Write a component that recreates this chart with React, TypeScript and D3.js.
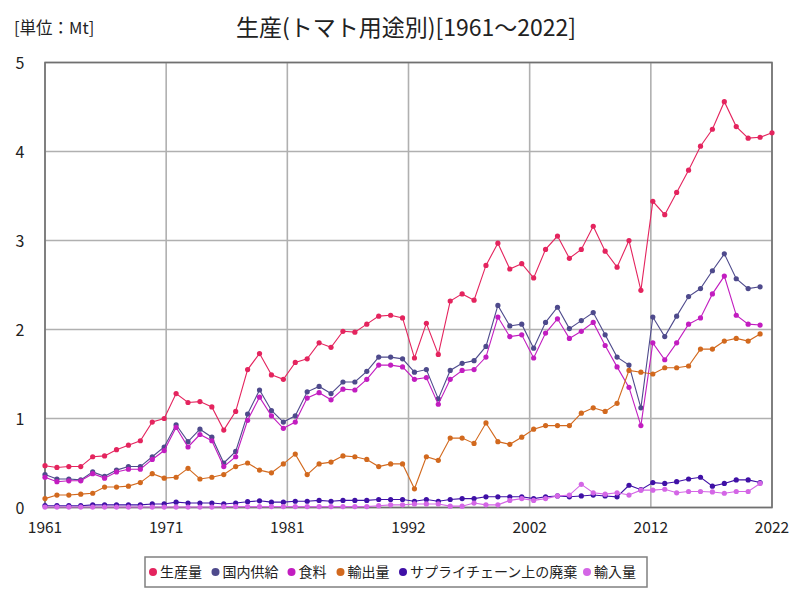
import React from 'react';
import * as d3 from 'd3';

const years: number[] = [
  1961, 1962, 1963, 1964, 1965, 1966, 1967, 1968, 1969, 1970,
  1971, 1972, 1973, 1974, 1975, 1976, 1977, 1978, 1979, 1980,
  1981, 1982, 1983, 1984, 1985, 1986, 1987, 1988, 1989, 1990,
  1991, 1992, 1993, 1994, 1995, 1996, 1997, 1998, 1999, 2000,
  2001, 2002, 2003, 2004, 2005, 2006, 2007, 2008, 2009, 2010,
  2011, 2012, 2013, 2014, 2015, 2016, 2017, 2018, 2019, 2020,
  2021, 2022,
];

const production: number[] = [
  0.47, 0.45, 0.46, 0.46, 0.57, 0.58, 0.65, 0.70, 0.75, 0.96,
  1.00, 1.28, 1.18, 1.19, 1.13, 0.87, 1.08, 1.55, 1.73, 1.49,
  1.44, 1.63, 1.67, 1.85, 1.80, 1.98, 1.97, 2.06, 2.15, 2.16,
  2.13, 1.68, 2.07, 1.72, 2.32, 2.40, 2.33, 2.72, 2.97, 2.68,
  2.74, 2.58, 2.90, 3.05, 2.80, 2.90, 3.16, 2.88, 2.70, 3.00,
  2.44, 3.44, 3.29, 3.54, 3.79, 4.06, 4.25, 4.56, 4.28, 4.15,
  4.16, 4.21,
];

const domesticSupply: number[] = [
  0.37, 0.32, 0.32, 0.31, 0.40, 0.35, 0.42, 0.46, 0.46, 0.57,
  0.68, 0.93, 0.74, 0.88, 0.79, 0.50, 0.63, 1.05, 1.32, 1.09,
  0.96, 1.03, 1.30, 1.36, 1.28, 1.41, 1.41, 1.53, 1.69, 1.69,
  1.67, 1.52, 1.55, 1.22, 1.54, 1.62, 1.65, 1.81, 2.27, 2.04,
  2.06, 1.79, 2.08, 2.25, 2.01, 2.10, 2.19, 1.94, 1.69, 1.60,
  1.12, 2.14, 1.92, 2.15, 2.37, 2.46, 2.66, 2.85, 2.57, 2.46,
  2.48,
];

const food: number[] = [
  0.34, 0.29, 0.30, 0.30, 0.38, 0.33, 0.40, 0.43, 0.43, 0.54,
  0.64, 0.90, 0.68, 0.82, 0.75, 0.46, 0.57, 0.98, 1.24, 1.03,
  0.89, 0.96, 1.23, 1.29, 1.21, 1.33, 1.32, 1.44, 1.60, 1.60,
  1.58, 1.44, 1.46, 1.16, 1.44, 1.54, 1.55, 1.69, 2.14, 1.92,
  1.94, 1.68, 1.96, 2.12, 1.90, 1.98, 2.08, 1.82, 1.58, 1.35,
  0.92, 1.85, 1.66, 1.85, 2.06, 2.13, 2.40, 2.60, 2.16, 2.06,
  2.05,
];

const exportsQty: number[] = [
  0.10, 0.14, 0.14, 0.15, 0.16, 0.23, 0.23, 0.24, 0.28, 0.38,
  0.33, 0.34, 0.44, 0.32, 0.34, 0.37, 0.46, 0.50, 0.42, 0.39,
  0.49, 0.60, 0.37, 0.49, 0.51, 0.58, 0.57, 0.54, 0.46, 0.49,
  0.49, 0.21, 0.57, 0.53, 0.78, 0.78, 0.72, 0.95, 0.74, 0.71,
  0.79, 0.88, 0.92, 0.92, 0.92, 1.06, 1.12, 1.08, 1.17, 1.54,
  1.52, 1.50, 1.57, 1.57, 1.59, 1.78, 1.78, 1.87, 1.90, 1.87,
  1.95,
];

const supplyChainWaste: number[] = [
  0.02, 0.02, 0.02, 0.02, 0.03, 0.03, 0.03, 0.03, 0.03, 0.04,
  0.04, 0.06, 0.05, 0.05, 0.05, 0.04, 0.05, 0.065, 0.075, 0.06,
  0.06, 0.07, 0.07, 0.08, 0.07, 0.08, 0.08, 0.08, 0.09, 0.09,
  0.09, 0.07, 0.09, 0.07, 0.09, 0.10, 0.10, 0.12, 0.12, 0.12,
  0.12, 0.10, 0.12, 0.13, 0.12, 0.13, 0.14, 0.13, 0.12, 0.25,
  0.20, 0.28, 0.27, 0.29, 0.32, 0.34, 0.24, 0.27, 0.31, 0.31,
  0.28,
];

const importsQty: number[] = [
  0.005, 0.005, 0.005, 0.005, 0.005, 0.005, 0.005, 0.005, 0.005, 0.005,
  0.005, 0.005, 0.005, 0.005, 0.005, 0.01, 0.01, 0.01, 0.01, 0.01,
  0.01, 0.01, 0.01, 0.01, 0.01, 0.01, 0.01, 0.01, 0.02, 0.03,
  0.03, 0.04, 0.04, 0.04, 0.015, 0.015, 0.05, 0.03, 0.03, 0.08,
  0.10, 0.08, 0.10, 0.13, 0.14, 0.26, 0.165, 0.15, 0.165, 0.14,
  0.195, 0.195, 0.205, 0.165, 0.18, 0.18, 0.175, 0.16, 0.18, 0.18,
  0.27,
];

const seriesNames: string[] = ['生産量', '国内供給', '食料', '輸出量', 'サプライチェーン上の廃棄', '輸入量'];
const seriesColors: string[] = ['#E4245E', '#4E4A8C', '#C21DC0', '#D2691E', '#3F10A6', '#D466E6'];
const seriesValues: number[][] = [production, domesticSupply, food, exportsQty, supplyChainWaste, importsQty];

const yTicks: number[] = [0, 1, 2, 3, 4, 5];
const titleText = '生産(トマト用途別)[1961～2022]';
const unitText = '[単位：Mt]';

const FONT = '"Noto Sans CJK JP", "Noto Sans", sans-serif';

export default function App() {
  const left = 45, right = 772, top = 62.5, bottom = 507.5;
  const x = d3.scaleLinear().domain([1961, 2022]).range([left, right]);
  const y = d3.scaleLinear().domain([0, 5]).range([bottom, top]);
  const xTicks = d3.range(7).map((k) => 1961 + (61 * k) / 6);

  const line = d3
    .line<number>()
    .x((_, i) => x(years[i]))
    .y((d) => y(d));

  // legend layout
  const legendItems: { name: string; color: string; cx: number }[] = [];
  let cx = 153;
  seriesNames.forEach((name, i) => {
    legendItems.push({ name, color: seriesColors[i], cx });
    cx += 22 + name.length * 13.5;
  });

  return (
    <svg
      width={800}
      height={600}
      style={{ position: 'absolute', left: 0, top: 0, background: '#fff' }}
      fontFamily={FONT}
    >
      <rect x={0} y={0} width={800} height={600} fill="#fff" />
      <text x={14} y={34} fontSize={16.5} fill="#222">{unitText}</text>
      <text x={406} y={36} fontSize={23} fill="#222" textAnchor="middle">{titleText}</text>

      {/* grid */}
      {yTicks.map((t) => (
        <line key={'gy' + t} x1={left} x2={right} y1={y(t)} y2={y(t)} stroke="#b0b0b0" strokeWidth={1.6} />
      ))}
      {xTicks.map((t, i) => (
        <line key={'gx' + i} x1={x(t)} x2={x(t)} y1={top} y2={bottom} stroke="#b0b0b0" strokeWidth={1.6} />
      ))}
      <rect x={left} y={top} width={right - left} height={bottom - top} fill="none" stroke="#707070" strokeWidth={1.6} />

      {/* axis labels */}
      {yTicks.map((t) => (
        <text key={'ly' + t} x={20} y={y(t) + 6} fontSize={16} fill="#222" textAnchor="middle">{t}</text>
      ))}
      {xTicks.map((t, i) => (
        <text key={'lx' + i} x={x(t)} y={533} fontSize={15.5} fill="#222" textAnchor="middle">{Math.round(t)}</text>
      ))}

      {/* series */}
      {seriesValues.map((vals, si) => (
        <g key={'s' + si}>
          <path d={line(vals) || ''} fill="none" stroke={seriesColors[si]} strokeWidth={1.1} />
          {vals.map((v, i) => (
            <circle key={i} cx={x(years[i])} cy={y(v)} r={2.6} fill={seriesColors[si]} />
          ))}
        </g>
      ))}

      {/* legend */}
      <rect x={145} y={557} width={502} height={30} fill="#fff" stroke="#808080" strokeWidth={1.5} />
      {legendItems.map((it) => (
        <g key={it.name}>
          <circle cx={it.cx} cy={572} r={4} fill={it.color} />
          <text x={it.cx + 7} y={577} fontSize={14} fill="#222">{it.name}</text>
        </g>
      ))}
    </svg>
  );
}
